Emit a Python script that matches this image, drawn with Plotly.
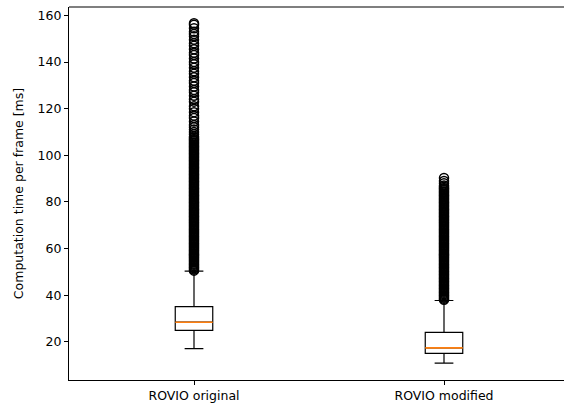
import plotly.graph_objects as go

categories = ["ROVIO original", "ROVIO modified"]
positions = [1, 2]
q1 = [24.9, 15.0]
median = [28.4, 17.4]
q3 = [35.1, 24.0]
lower_whisker = [17.1, 10.8]
upper_whisker = [50.3, 37.7]

outliers_original = [
    50.5, 51, 51.5, 52, 52.5, 53, 53.5, 54, 54.5, 55,
    55.5, 56, 56.5, 57, 57.5, 58, 58.5, 59, 59.5, 60,
    60.5, 61, 61.5, 62, 62.5, 63, 63.5, 64, 64.5, 65,
    65.5, 66, 66.5, 67, 67.5, 68, 68.5, 69, 69.5, 70,
    70.5, 71, 71.5, 72, 72.5, 73, 73.5, 74, 74.5, 75,
    75.5, 76, 76.5, 77, 77.5, 78, 78.5, 79, 79.5, 80,
    80.5, 81, 81.5, 82, 82.5, 83, 83.5, 84, 84.5, 85,
    85.5, 86, 86.5, 87, 87.5, 88, 88.5, 89, 89.5, 90,
    90.5, 91, 91.5, 92, 92.5, 93, 93.5, 94, 94.5, 95,
    95.5, 96, 96.5, 97, 97.5, 98, 98.5, 99, 99.5, 100,
    100.5, 101, 101.5, 102, 102.5, 103, 103.5, 104, 104.5, 105,
    105.5, 106, 106.5, 107, 107.5, 108, 109, 110, 111, 112,
    113, 114.5, 116, 117, 118.5, 120, 121, 123, 124, 125.5,
    127, 128, 129.5, 131, 132, 133.5, 135, 136, 137.5, 139,
    140, 141.5, 143, 144, 145.5, 147, 148, 149.5, 151, 152,
    153, 154.5, 156, 156.6,
]

outliers_modified = [
    38, 38.5, 39, 39.5, 40, 40.5, 41, 41.5, 42, 42.5,
    43, 43.5, 44, 44.5, 45, 45.5, 46, 46.5, 47, 47.5,
    48, 48.5, 49, 49.5, 50, 50.5, 51, 51.5, 52, 52.5,
    53, 53.5, 54, 54.5, 55, 55.5, 56, 56.5, 57, 57.5,
    58, 58.5, 59, 59.5, 60, 60.5, 61, 61.5, 62, 62.5,
    63, 63.5, 64, 64.5, 65, 65.5, 66, 66.5, 67, 67.5,
    68, 68.5, 69, 69.5, 70, 70.5, 71, 71.5, 72, 72.5,
    73, 73.5, 74, 74.5, 75, 75.5, 76, 76.5, 77, 77.5,
    78, 78.5, 79, 79.5, 80, 80.5, 81, 81.5, 82, 82.5,
    83, 83.5, 84, 84.5, 85, 85.5, 86, 86.5, 87, 88,
    89, 90.3,
]

y_ticks = [20, 40, 60, 80, 100, 120, 140, 160]
box_width = 0.15

fig = go.Figure()

# Boxes with whiskers
fig.add_trace(go.Box(
    x=positions, q1=q1, median=median, q3=q3,
    lowerfence=lower_whisker, upperfence=upper_whisker,
    boxpoints=False, width=box_width, whiskerwidth=0.5,
    fillcolor="white", line=dict(color="black", width=1.2),
    showlegend=False, hoverinfo="skip",
))

# Orange median lines (spanning the box width)
med_x, med_y = [], []
for pos, m in zip(positions, median):
    med_x += [pos - box_width / 2, pos + box_width / 2, None]
    med_y += [m, m, None]
fig.add_trace(go.Scatter(
    x=med_x, y=med_y, mode="lines",
    line=dict(color="#ff7f0e", width=1.6),
    showlegend=False, hoverinfo="skip",
))

# Outliers
for pos, vals in zip(positions, [outliers_original, outliers_modified]):
    fig.add_trace(go.Scatter(
        x=[pos] * len(vals), y=vals, mode="markers",
        marker=dict(symbol="circle-open", size=9, color="black",
                    line=dict(width=1.5, color="black")),
        showlegend=False, hoverinfo="skip",
    ))

fig.add_shape(type="line", xref="paper", yref="paper", x0=0, x1=1, y0=1, y1=1,
              line=dict(color="black", width=1.2))

fig.update_layout(
    width=564, height=405,
    margin=dict(l=69, r=0, t=7, b=25),
    paper_bgcolor="white", plot_bgcolor="white",
    font=dict(family="DejaVu Sans", size=12.5, color="black"),
    boxmode="overlay",
)
fig.update_xaxes(
    range=[0.5, 2.48], tickmode="array", tickvals=positions, ticktext=categories,
    showline=True, linecolor="black", linewidth=1.2, showgrid=False, zeroline=False,
    ticks="outside", ticklen=4, tickcolor="black", tickfont=dict(size=12.5),
)
fig.update_yaxes(
    range=[3.6, 163.6], tickmode="array", tickvals=y_ticks,
    showline=True, linecolor="black", linewidth=1.2, showgrid=False, zeroline=False,
    ticks="outside", ticklen=4, tickcolor="black", tickfont=dict(size=12.5),
    title=dict(text="Computation time per frame [ms]", font=dict(size=12.5), standoff=11),
)

fig.write_html(
    "out.html",
    config={"displayModeBar": False},
    post_script="document.body.style.margin='0';document.body.style.overflow='hidden';",
)
